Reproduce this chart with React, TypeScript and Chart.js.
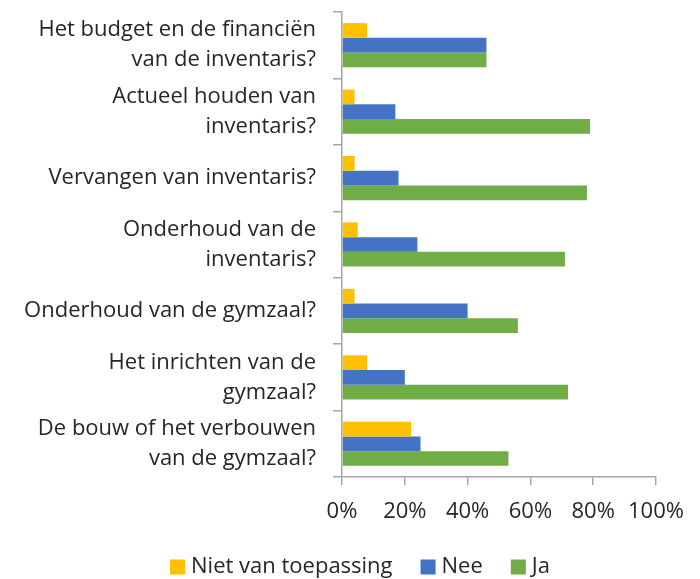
import React, { useEffect, useRef } from "react";
import { Chart, registerables } from "chart.js";

Chart.register(...registerables);

const categories: string[][] = [
  ["Het budget en de financiën", "van de inventaris?"],
  ["Actueel houden van", "inventaris?"],
  ["Vervangen van inventaris?"],
  ["Onderhoud van de", "inventaris?"],
  ["Onderhoud van de gymzaal?"],
  ["Het inrichten van de", "gymzaal?"],
  ["De bouw of het verbouwen", "van de gymzaal?"],
];

const nietVanToepassing = [8, 4, 4, 5, 4, 8, 22];
const nee = [46, 17, 18, 24, 40, 20, 25];
const ja = [46, 79, 78, 71, 56, 72, 53];

const xTicks = [0, 20, 40, 60, 80, 100];

const FONT = "'Open Sans', sans-serif";
const TEXT = "#262626";
const AXIS = "#a6a6a6";

const bottomLegend = {
  id: "bottomLegend",
  afterDraw(chart: any) {
    const ctx = chart.ctx as CanvasRenderingContext2D;
    const ds = chart.data.datasets;
    const size = 22;
    const box = 15;
    const gap = 6;
    const spacing = 28;
    ctx.save();
    ctx.font = `${size}px ${FONT}`;
    ctx.textBaseline = "middle";
    ctx.textAlign = "left";
    const widths = ds.map((d: any) => ctx.measureText(d.label).width);
    const total =
      widths.reduce((a: number, w: number) => a + box + gap + w, 0) + spacing * (ds.length - 1);
    let x = 360 - total / 2;
    const cy = 567;
    ds.forEach((d: any, i: number) => {
      ctx.fillStyle = d.backgroundColor;
      ctx.fillRect(x, cy - box / 2, box, box);
      x += box + gap;
      ctx.fillStyle = TEXT;
      ctx.fillText(d.label, x, cy);
      x += widths[i] + spacing;
    });
    ctx.restore();
  },
};

export default function App() {
  const ref = useRef<HTMLCanvasElement | null>(null);

  useEffect(() => {
    if (!ref.current) return;
    const chart = new Chart(ref.current, {
      type: "bar",
      data: {
        labels: categories,
        datasets: [
          { label: "Niet van toepassing", data: nietVanToepassing, backgroundColor: "#FFC000" },
          { label: "Nee", data: nee, backgroundColor: "#4472C4" },
          { label: "Ja", data: ja, backgroundColor: "#70AD47" },
        ],
      },
      options: {
        indexAxis: "y",
        animation: false,
        responsive: false,
        maintainAspectRatio: false,
        datasets: { bar: { categoryPercentage: 0.665, barPercentage: 1 } },
        layout: { padding: { top: 12, right: 44, left: 0, bottom: 50 } },
        scales: {
          x: {
            min: 0,
            max: 100,
            afterBuildTicks: (scale: any) => {
              scale.ticks = xTicks.map((v) => ({ value: v }));
            },
            afterFit: (scale: any) => {
              scale.height = 52;
            },
            grid: { drawOnChartArea: false, drawTicks: true, tickLength: 8, color: AXIS, lineWidth: 1.5 },
            border: { color: AXIS, width: 1.5 },
            ticks: {
              callback: (v: any) => v + "%",
              color: TEXT,
              font: { family: FONT, size: 22 },
              padding: 14,
            },
          },
          y: {
            afterFit: (scale: any) => {
              scale.width = 342;
              scale.paddingTop = 0;
              scale.paddingBottom = 0;
            },
            grid: { drawOnChartArea: false, drawTicks: true, tickLength: 9, color: AXIS, lineWidth: 1.5, offset: true },
            border: { color: AXIS, width: 1.5 },
            ticks: {
              color: TEXT,
              font: { family: FONT, size: 22, lineHeight: 1.364 },
              padding: 17,
              autoSkip: false,
            },
          },
        },
        plugins: {
          legend: { display: false },
          tooltip: { enabled: false },
        },
      } as any,
      plugins: [bottomLegend],
    });
    return () => chart.destroy();
  }, []);

  return (
    <div style={{ position: "fixed", left: 0, top: 0, width: 700, height: 579, background: "#fff" }}>
      <canvas ref={ref} width={700} height={579} style={{ width: 700, height: 579 }} />
    </div>
  );
}
